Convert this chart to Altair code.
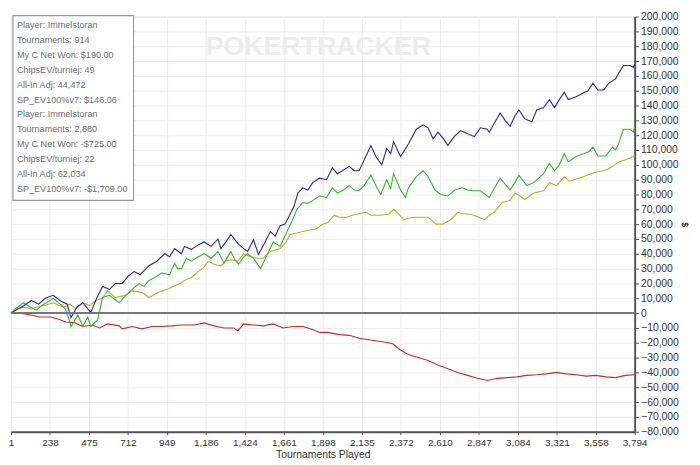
import altair as alt
import pandas as pd

# ---- data ----
blue_t = [1, 78, 126, 168, 210, 258, 306, 342, 366, 402, 438, 486, 522, 558, 600, 636, 678, 714, 750, 786,
          840, 888, 936, 966, 996, 1038, 1056, 1098, 1140, 1176, 1218, 1260, 1278, 1308, 1338, 1380, 1410, 1440,
          1476, 1506, 1542, 1578, 1608, 1638, 1668, 1698, 1722, 1746, 1776, 1806, 1836, 1878, 1920, 1956, 1986,
          2016, 2058, 2088, 2118, 2148, 2190, 2220, 2256, 2286, 2310, 2328, 2370, 2418, 2466, 2508, 2538, 2568,
          2598, 2628, 2658, 2700, 2736, 2778, 2820, 2856, 2898, 2910, 2940, 2976, 3006, 3036, 3066, 3090, 3126,
          3168, 3198, 3240, 3276, 3306, 3336, 3366, 3390, 3438, 3480, 3510, 3540, 3570, 3606, 3636, 3678, 3696,
          3726, 3768, 3786, 3794]
blue_v = [0, 5, 8.5, 6, 10, 12, 8, 6, -3, 4, 7, 0.5, 10, 18, 16, 20, 20, 25, 28, 26,
          32, 35, 40, 38, 43.5, 40, 45, 43, 46, 48, 45, 50, 43.5, 48, 53, 47, 44, 41.6,
          49.5, 39.6, 47, 55, 52, 59, 60, 66.7, 72, 81, 84.5, 83, 88, 91, 90, 98, 94,
          96, 99, 96, 96, 103, 113, 105.6, 100, 111, 107.6, 115.5, 105.6, 114, 124, 127, 125, 117.5,
          122, 118, 113, 119.5, 123, 121, 119, 125, 124, 122, 128, 135, 130, 126, 133, 137, 131,
          129, 137, 138.6, 144, 138.6, 144, 149, 144, 146, 148.5, 150, 155, 150.5, 150.5, 155, 158, 161.7,
          167, 167, 165.7, 168]

green_t = [1, 18, 78, 120, 156, 186, 216, 258, 300, 330, 360, 366, 408, 438, 468, 486, 528, 558, 600, 636,
           660, 690, 720, 750, 780, 810, 840, 876, 918, 966, 996, 1014, 1038, 1068, 1098, 1140, 1176, 1218,
           1260, 1296, 1338, 1362, 1386, 1416, 1440, 1476, 1518, 1560, 1596, 1638, 1680, 1710, 1740, 1776,
           1806, 1836, 1878, 1920, 1956, 1986, 2016, 2058, 2088, 2118, 2148, 2190, 2220, 2250, 2286, 2310,
           2328, 2370, 2400, 2418, 2466, 2508, 2538, 2580, 2616, 2658, 2700, 2748, 2778, 2808, 2856, 2910,
           2940, 2976, 3006, 3036, 3066, 3090, 3138, 3180, 3240, 3276, 3306, 3336, 3366, 3390, 3438, 3486,
           3516, 3540, 3570, 3618, 3660, 3678, 3696, 3726, 3768, 3786, 3794]
green_v = [0, 2, 7, 4, 2, 5, 7, 10, 6, 3, -6, -9, -1.3, -9, -2.6, -9, -4.6, 10.5, 12, 9,
           7, 11, 14, 17, 20, 18, 22, 24, 27, 26, 33.7, 30, 30, 37, 35, 38, 40, 37,
           41.6, 33.7, 41.6, 36, 33, 38, 40, 37, 30, 39.6, 48, 45, 55, 62, 70, 74.6,
           74, 76, 79, 78, 84.5, 81, 82.5, 86, 83, 82.5, 86, 93, 86, 80, 90, 84,
           94, 83, 78, 84.5, 92, 96, 92, 83, 80, 79, 83, 84.5, 83, 82.5, 82.5, 78,
           84, 91, 87, 83, 88, 93, 86, 88, 94, 101, 96, 100, 107.6, 102, 105.6, 107.6,
           109, 112, 106, 106, 112, 110, 114, 124, 124, 122, 126]

yellow_t = [1, 36, 78, 120, 156, 198, 258, 318, 360, 396, 438, 480, 516, 558, 588, 636, 696, 738, 798, 840,
            900, 960, 996, 1038, 1056, 1098, 1140, 1176, 1200, 1236, 1278, 1308, 1338, 1380, 1416, 1458, 1500,
            1536, 1578, 1638, 1668, 1698, 1740, 1776, 1818, 1860, 1896, 1926, 1968, 1998, 2040, 2100, 2160,
            2190, 2238, 2298, 2328, 2358, 2388, 2418, 2460, 2496, 2538, 2586, 2628, 2658, 2676, 2718, 2748,
            2796, 2838, 2880, 2910, 2940, 2988, 3036, 3066, 3096, 3126, 3180, 3240, 3276, 3318, 3366, 3396,
            3456, 3528, 3558, 3600, 3630, 3660, 3696, 3726, 3750, 3786, 3794]
yellow_v = [0, 3, 4, 3, 4, 5, 7, 4, 6, 3, 7, 5, 8.5, 10, 15, 10.5, 12, 15, 14, 10.5,
            14, 16.5, 18.5, 20.5, 22, 24, 28, 31, 35, 33, 31.7, 35, 36, 35, 40, 38, 37,
            37, 41.6, 43.5, 47, 53, 54, 55, 56, 57, 60, 61, 66, 64.7, 64.7, 66.7, 68,
            66, 66, 66.7, 70, 67, 63, 64, 64.7, 64.7, 64.7, 60, 60, 62, 63, 68, 67,
            66.7, 65, 63, 66, 68, 74.6, 76, 81, 79, 76.6, 81, 82.5, 88, 86, 92, 89,
            91, 94, 95, 96, 97, 99, 102, 103, 104, 105.6, 106]

red_t = [1, 60, 120, 180, 240, 288, 336, 390, 438, 498, 540, 588, 660, 678, 738, 798, 858, 918, 978, 1038,
         1116, 1176, 1236, 1296, 1356, 1380, 1416, 1476, 1536, 1596, 1656, 1716, 1776, 1836, 1878, 1926,
         1998, 2058, 2118, 2178, 2238, 2298, 2328, 2358, 2418, 2478, 2538, 2598, 2658, 2718, 2778, 2838,
         2898, 2958, 3018, 3078, 3138, 3198, 3258, 3318, 3378, 3438, 3498, 3558, 3618, 3678, 3738, 3794]
red_v = [0, 0, -1.3, -2.6, -2.6, -4, -6, -6.6, -9, -8, -10, -7.3, -8.6, -10.6, -9, -10.6, -9, -9, -8.6, -8,
         -8, -6.6, -8.6, -10, -10, -12, -7.3, -8, -8.6, -7.3, -10, -9, -9, -11, -13, -13,
         -14.5, -15, -17, -18, -19, -20, -21, -24, -28, -30, -32, -35, -37.6, -40, -42, -44,
         -45.5, -44, -43.5, -43, -42, -41.6, -41, -40, -41, -41.6, -42.5, -42, -43, -43.5, -42, -41.6]

series_names = ["red", "yellow", "green", "blue"]
series_colors = ["#c42b2b", "#b8b028", "#2eb82e", "#2424b4"]

x_ticks = [1, 238, 475, 712, 949, 1186, 1424, 1661, 1898, 2135, 2372, 2610, 2847, 3084, 3321, 3558, 3794]
y_ticks = list(range(-80000, 200001, 10000))

legend_lines = [
    "Player: Immelstoran",
    "Tournaments: 914",
    "My C Net Won: $190.00",
    "ChipsEV/turniej: 49",
    "All-In Adj: 44,472",
    "SP_EV100%v7: $146.06",
    "Player: Immelstoran",
    "Tournaments: 2,880",
    "My C Net Won: -$725.00",
    "ChipsEV/turniej: 22",
    "All-In Adj: 62,034",
    "SP_EV100%v7: -$1,709.00",
]

# ---- build table ----
rows = []
for name, ts, vs in [("red", red_t, red_v), ("yellow", yellow_t, yellow_v),
                     ("green", green_t, green_v), ("blue", blue_t, blue_v)]:
    for i, (t, v) in enumerate(zip(ts, vs)):
        rows.append({"series": name, "t": t, "value": v * 1000, "order": i})
df = pd.DataFrame(rows)

W, H = 631, 420
FONT = "Liberation Sans"

x_scale = alt.Scale(domain=[1, 3794], nice=False, zero=False)
y_scale = alt.Scale(domain=[-80000, 200000], nice=False)

x_axis = alt.Axis(values=x_ticks, format=",d", title="Tournaments Played",
                  labelFlush=False, labelOverlap=False, labelFont=FONT, labelFontSize=10,
                  labelColor="#333", titleFont=FONT, titleFontSize=10.5, titleFontWeight="normal",
                  titleColor="#333", titlePadding=2, tickSize=3, tickColor="#555",
                  domainColor="#555", domainWidth=2, gridColor="#ececec", labelPadding=3)
y_axis = alt.Axis(orient="right", values=y_ticks, format=",d", title="$",
                  labelOverlap=False, labelFlush=False, titleAngle=90, titleFontSize=9,
                  titleFontWeight="bold", titleColor="#333", labelFont=FONT, labelFontSize=10.5,
                  labelColor="#333", tickSize=4, tickColor="#555", domainColor="#555", domainWidth=2,
                  gridColor="#ececec", titlePadding=1, labelPadding=2)

lines = alt.Chart(df).mark_line(strokeWidth=1.1).encode(
    x=alt.X("t:Q", scale=x_scale, axis=x_axis),
    y=alt.Y("value:Q", scale=y_scale, axis=y_axis),
    color=alt.Color("series:N", scale=alt.Scale(domain=series_names, range=series_colors), legend=None),
    order="order:Q",
    detail="series:N",
)

zero = alt.Chart(pd.DataFrame({"value": [0]})).mark_rule(color="#777", strokeWidth=2).encode(
    y=alt.Y("value:Q", scale=y_scale, axis=y_axis))

watermark = alt.Chart(pd.DataFrame({"w": ["POKERTRACKER"]})).mark_text(
    fontSize=27, fontWeight="bold", color="#ececec", font="Liberation Sans", align="center",
    baseline="middle").encode(text="w:N", x=alt.value(311), y=alt.value(31))

box = alt.Chart(pd.DataFrame({"b": [0]})).mark_rect(fill="white", stroke="#9a9a9a", strokeWidth=1.2).encode(
    x=alt.value(2), x2=alt.value(124), y=alt.value(-1), y2=alt.value(186))

legend_text = alt.Chart(pd.DataFrame({"txt": ["\n".join(legend_lines)]})).mark_text(
    align="left", baseline="middle", lineBreak="\n", lineHeight=15, fontSize=9.2,
    font="Liberation Sans", color="#6e6e6e").encode(text="txt:N", x=alt.value(6), y=alt.value(9))

chart = alt.layer(watermark, lines, zero, box, legend_text).properties(
    width=W, height=H,
    autosize=alt.AutoSizeParams(type="none"),
    padding={"left": 3, "top": 6, "right": 58, "bottom": 31},
).configure_view(stroke="#555", strokeWidth=1.5).configure(background="white")

chart.save("out.html", embed_options={"renderer": "svg", "actions": False})
